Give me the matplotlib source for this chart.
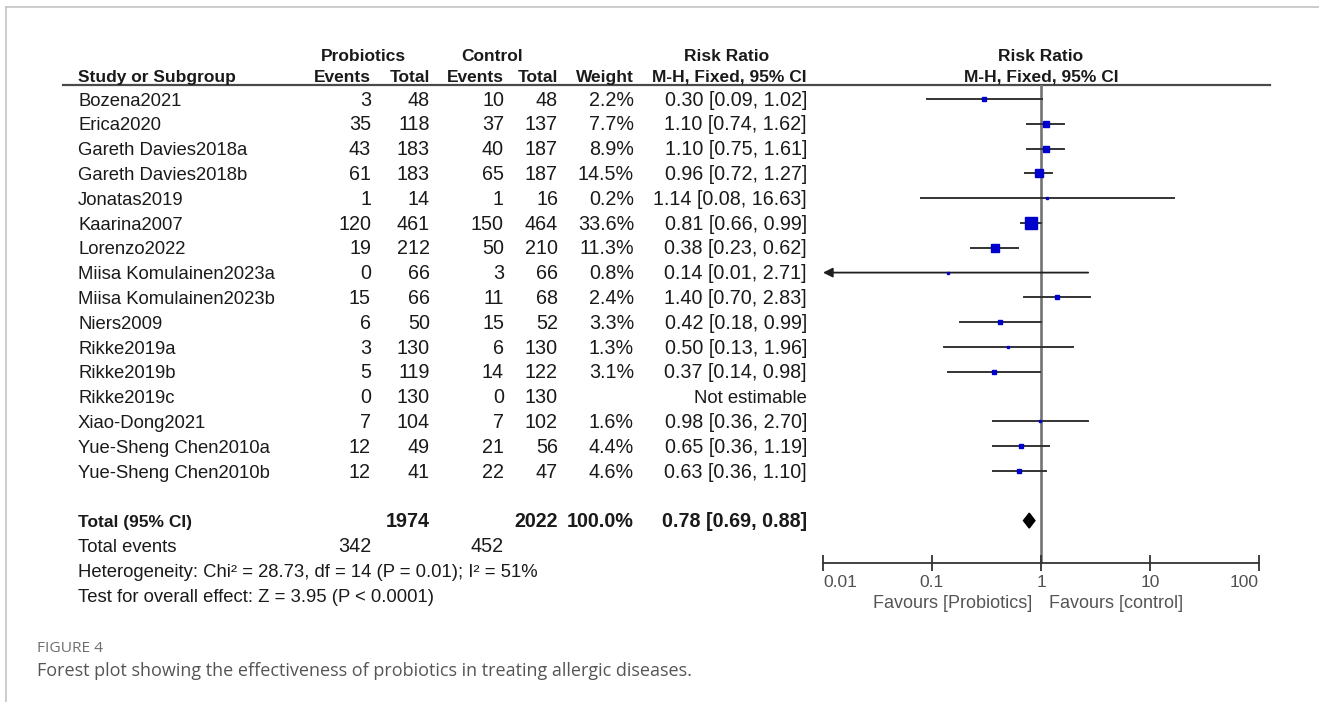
import numpy as np
import matplotlib
matplotlib.use("Agg")
import matplotlib.pyplot as plt

# study data
studies = ["Bozena2021", "Erica2020", "Gareth Davies2018a", "Gareth Davies2018b",
           "Jonatas2019", "Kaarina2007", "Lorenzo2022", "Miisa Komulainen2023a",
           "Miisa Komulainen2023b", "Niers2009", "Rikke2019a", "Rikke2019b",
           "Rikke2019c", "Xiao-Dong2021", "Yue-Sheng Chen2010a", "Yue-Sheng Chen2010b"]
pro_events = [3, 35, 43, 61, 1, 120, 19, 0, 15, 6, 3, 5, 0, 7, 12, 12]
pro_total = [48, 118, 183, 183, 14, 461, 212, 66, 66, 50, 130, 119, 130, 104, 49, 41]
ctl_events = [10, 37, 40, 65, 1, 150, 50, 3, 11, 15, 6, 14, 0, 7, 21, 22]
ctl_total = [48, 137, 187, 187, 16, 464, 210, 66, 68, 52, 130, 122, 130, 102, 56, 47]
weight = [2.2, 7.7, 8.9, 14.5, 0.2, 33.6, 11.3, 0.8, 2.4, 3.3, 1.3, 3.1, None, 1.6, 4.4, 4.6]
rr = [0.30, 1.10, 1.10, 0.96, 1.14, 0.81, 0.38, 0.14, 1.40, 0.42, 0.50, 0.37, None, 0.98, 0.65, 0.63]
ci_low = [0.09, 0.74, 0.75, 0.72, 0.08, 0.66, 0.23, 0.01, 0.70, 0.18, 0.13, 0.14, None, 0.36, 0.36, 0.36]
ci_high = [1.02, 1.62, 1.61, 1.27, 16.63, 0.99, 0.62, 2.71, 2.83, 0.99, 1.96, 0.98, None, 2.70, 1.19, 1.10]

total_n = [1974, 2022]
total_events = [342, 452]
pooled = [0.78, 0.69, 0.88]
heterogeneity = "Heterogeneity: Chi² = 28.73, df = 14 (P = 0.01); I² = 51%"
overall = "Test for overall effect: Z = 3.95 (P < 0.0001)"
ticks = [0.01, 0.1, 1, 10, 100]
tick_labels = ["0.01", "0.1", "1", "10", "100"]

W, H = 1319, 702
y0, step = 99, 24.8           # pixel row of first study, row height
font = ["Liberation Sans", "DejaVu Sans"]
txt = "#1a1a1a"

fig = plt.figure(figsize=(W / 100, H / 100), dpi=100)
fig.patch.set_facecolor("white")
renderer = fig.canvas.get_renderer()

def fit(s, width, family, weight="normal", base=12):
  # font size that gives the string the measured pixel width
  t = fig.text(0, 0, s, fontsize=base, family=family, fontweight=weight)
  w = t.get_window_extent(renderer).width
  t.remove()
  return base * width / w

fs = fit(heterogeneity, 459, font)
fs_num = fit("0.30 [0.09, 1.02]", 142, font)
fh = 12.5

# canvas axes in pixel units for the table part
ax = fig.add_axes([0, 0, 1, 1])
ax.set_xlim(0, W)
ax.set_ylim(H, 0)
ax.axis("off")

def row_y(i):
  return y0 + step * i

def put(x, i, s, ha="right", bold=False, y=None, size=None):
  yy = row_y(i) + 6.5 if y is None else y
  ax.text(x, yy, s, ha=ha, va="baseline", fontsize=size or fs, family=font,
          fontweight="bold" if bold else "normal", color=txt)

def num(x, i, s, bold=False):
  put(x, i, s, bold=bold, size=fs_num)

# frame of the figure panel
ax.plot([6, W], [7, 7], color="#c4c4c4", lw=1.2)
ax.plot([6, 6], [7, H], color="#c4c4c4", lw=1.2)

# column right edges
c_pe, c_pt, c_ce, c_ct, c_w, c_rr = 371, 430, 504, 558, 634, 807

# headers
hy1, hy2 = 61, 82
put(363, 0, "Probiotics", ha="center", bold=True, y=hy1, size=fh)
put(492, 0, "Control", ha="center", bold=True, y=hy1, size=fh)
put(727, 0, "Risk Ratio", ha="center", bold=True, y=hy1, size=fh)
put(1041, 0, "Risk Ratio", ha="center", bold=True, y=hy1, size=fh)
put(78, 0, "Study or Subgroup", ha="left", bold=True, y=hy2, size=fh)
put(c_pe, 0, "Events", bold=True, y=hy2, size=fh)
put(c_pt, 0, "Total", bold=True, y=hy2, size=fh)
put(c_ce, 0, "Events", bold=True, y=hy2, size=fh)
put(c_ct, 0, "Total", bold=True, y=hy2, size=fh)
put(c_w, 0, "Weight", bold=True, y=hy2, size=fh)
put(c_rr, 0, "M-H, Fixed, 95% CI", bold=True, y=hy2, size=fh)
put(1041, 0, "M-H, Fixed, 95% CI", ha="center", bold=True, y=hy2, size=fh)
ax.plot([63, 1270], [85, 85], color="#4a4a4a", lw=1.6)

# study rows
for i, name in enumerate(studies):
  put(78, i, name, ha="left")
  num(c_pe, i, str(pro_events[i]))
  num(c_pt, i, str(pro_total[i]))
  num(c_ce, i, str(ctl_events[i]))
  num(c_ct, i, str(ctl_total[i]))
  if rr[i] is None:
    put(c_rr, i, "Not estimable")
  else:
    num(c_w, i, f"{weight[i]:.1f}%")
    num(c_rr, i, f"{rr[i]:.2f} [{ci_low[i]:.2f}, {ci_high[i]:.2f}]")

n = len(studies)
put(78, n + 1, "Total (95% CI)", ha="left", bold=True, size=fh)
num(c_pt, n + 1, str(total_n[0]), bold=True)
num(c_ct, n + 1, str(total_n[1]), bold=True)
num(c_w, n + 1, "100.0%", bold=True)
num(c_rr, n + 1, f"{pooled[0]:.2f} [{pooled[1]:.2f}, {pooled[2]:.2f}]", bold=True)
put(78, n + 2, "Total events", ha="left")
num(c_pe, n + 2, str(total_events[0]))
num(c_ce, n + 2, str(total_events[1]))
put(78, n + 3, heterogeneity, ha="left")
put(78, n + 4, overall, ha="left")

# caption
cap_font = ["Open Sans", "DejaVu Sans"]
caption = "Forest plot showing the effectiveness of probiotics in treating allergic diseases."
ax.text(37, 648, "FIGURE 4", ha="left", va="center", fontsize=fit("FIGURE 4", 66, cap_font),
        family=cap_font, color="#6e6e6e")
ax.text(37, 671, caption, ha="left", va="center", fontsize=fit(caption, 655, cap_font),
        family=cap_font, color="#555555")

# forest plot axes
x_left, x_right, y_top, y_bot = 823, 1259, 85, 562.5
axf = fig.add_axes([x_left / W, 1 - y_bot / H, (x_right - x_left) / W, (y_bot - y_top) / H])
axf.set_xscale("log")
axf.set_xlim(ticks[0], ticks[-1])
axf.set_ylim((y_bot - y0) / step, (y_top - y0) / step)
axf.patch.set_alpha(0)
for s in ["top", "left", "right"]:
  axf.spines[s].set_visible(False)
axf.spines["bottom"].set_color("#333333")
axf.spines["bottom"].set_linewidth(1.3)
axf.set_yticks([])
axf.set_xticks(ticks)
axf.set_xticklabels(tick_labels)
axf.minorticks_off()
axf.tick_params(axis="x", direction="inout", length=12, width=1.3, color="#333333",
                labelcolor="#505050", labelsize=12.5, pad=3)
for lab in axf.get_xticklabels():
  lab.set_family(font)
labs = axf.get_xticklabels()
labs[0].set_horizontalalignment("left")
labs[-1].set_horizontalalignment("right")

axf.axvline(1, color="#747474", lw=1.9, zorder=1)

for i in range(n):
  if rr[i] is None:
    continue
  if ci_low[i] <= ticks[0]:
    # interval runs off the scale: arrow to the left edge
    axf.annotate("", xy=(ticks[0], i), xytext=(ci_high[i], i),
                 arrowprops=dict(arrowstyle="-|>", color="#1e1e1e", lw=1.3,
                                 mutation_scale=14, shrinkA=0, shrinkB=0), zorder=2)
  else:
    axf.plot([ci_low[i], ci_high[i]], [i, i], color="#333333", lw=1.4, zorder=2)
  side = max(2.6, 2.2 * np.sqrt(weight[i]))
  axf.plot(rr[i], i, marker="s", ms=side * 0.72, color="#0000cc", mec="#0000cc", zorder=4)

# pooled diamond
dy = 0.3
axf.fill([pooled[1], pooled[0], pooled[2], pooled[0]],
         [n + 1, n + 1 - dy, n + 1, n + 1 + dy], color="black", zorder=4)

fav = 13
axf.annotate("Favours [Probiotics]", xy=(1, 0), xycoords=("data", "axes fraction"),
             xytext=(-9, -41), textcoords="offset pixels", ha="right", va="center",
             fontsize=fav, family=font, color="#555555")
axf.annotate("Favours [control]", xy=(1, 0), xycoords=("data", "axes fraction"),
             xytext=(8, -41), textcoords="offset pixels", ha="left", va="center",
             fontsize=fav, family=font, color="#555555")

fig.savefig("out.png", dpi=100)
